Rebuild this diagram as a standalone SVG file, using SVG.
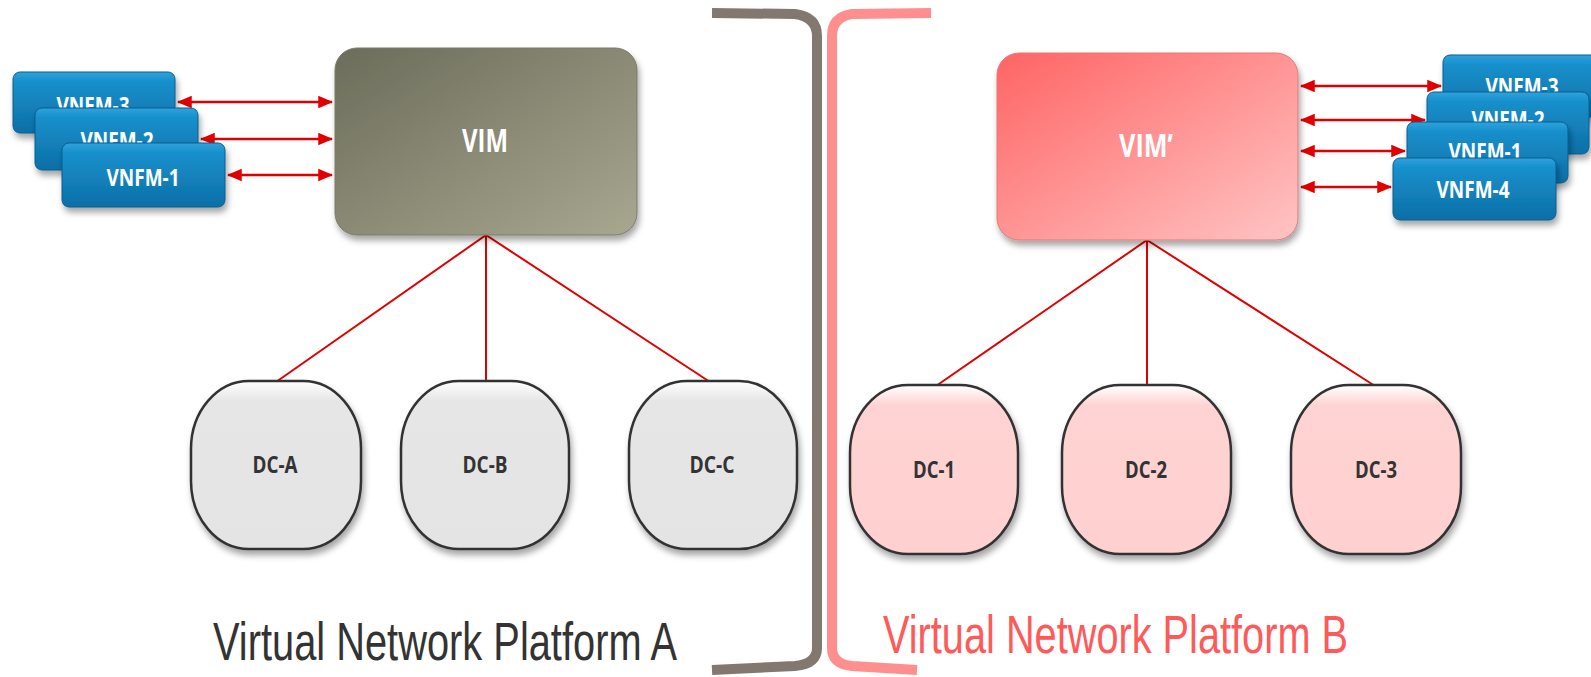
<svg xmlns="http://www.w3.org/2000/svg" width="1591" height="677" viewBox="0 0 1591 677">
<defs>
  <linearGradient id="gVim" x1="0" y1="0" x2="1" y2="1">
    <stop offset="0" stop-color="#6b6c5a"/>
    <stop offset="1" stop-color="#a8a790"/>
  </linearGradient>
  <linearGradient id="gVim2" x1="0" y1="0" x2="1" y2="1">
    <stop offset="0" stop-color="#ff6464"/>
    <stop offset="1" stop-color="#ffc4c4"/>
  </linearGradient>
  <linearGradient id="gBlue" x1="0" y1="0" x2="0" y2="1">
    <stop offset="0" stop-color="#2fa3dc"/>
    <stop offset="0.15" stop-color="#1890cc"/>
    <stop offset="1" stop-color="#0d6fa6"/>
  </linearGradient>
  <linearGradient id="gGray" x1="0" y1="0" x2="0" y2="1">
    <stop offset="0" stop-color="#ffffff"/>
    <stop offset="0.12" stop-color="#e6e6e6"/>
    <stop offset="1" stop-color="#e4e4e4"/>
  </linearGradient>
  <linearGradient id="gPink" x1="0" y1="0" x2="0" y2="1">
    <stop offset="0" stop-color="#ffffff"/>
    <stop offset="0.12" stop-color="#ffd3d3"/>
    <stop offset="1" stop-color="#ffd0d0"/>
  </linearGradient>
  <filter id="sh" x="-20%" y="-20%" width="140%" height="150%">
    <feDropShadow dx="2" dy="5" stdDeviation="3" flood-color="#000" flood-opacity="0.35"/>
  </filter>
  <marker id="ah" viewBox="0 0 12 10" refX="11" refY="5" markerWidth="6" markerHeight="5" orient="auto-start-reverse" markerUnits="strokeWidth">
    <path d="M0,0 L12,5 L0,10 z" fill="#e00000"/>
  </marker>
</defs>
<style>
  .vnfm rect { fill: url(#gBlue); stroke: #0b5f8e; stroke-width: 1; filter: url(#sh); }
  .vnfm text, .vim text { fill: #ffffff; font-family: "Open Sans", "Liberation Sans", sans-serif; font-weight: bold; text-anchor: middle; }
  .vnfm text { font-size: 23px; }
  .vim text { font-size: 32px; }
  .dc rect { stroke: #333333; stroke-width: 2.5; filter: url(#sh); }
  .dc text { fill: #333333; font-family: "Open Sans", "Liberation Sans", sans-serif; font-weight: bold; font-size: 23px; text-anchor: middle; }
  .arrow { stroke: #e00000; stroke-width: 2.5; fill: none; marker-start: url(#ah); marker-end: url(#ah); }
  .link { stroke: #e00000; stroke-width: 2; fill: none; }
  .title { font-family: "Liberation Sans", Arial, sans-serif; font-size: 53px; }
</style>

<!-- brackets -->
<g id="brackets" fill="none" stroke-width="10" stroke-linecap="butt">
  <path d="M712,13 L795,14 Q817,17 817,36 L817,648 Q817,664 795,666 L712,670" stroke="#83786f"/>
  <path d="M931,13 L852,14 Q832,17 832,36 L832,648 Q832,664 852,666 L917,670" stroke="#ff8f8f"/>
</g>

<!-- connectors -->
<g id="connectors">
  <line class="link" x1="486" y1="235" x2="276" y2="382"/>
  <line class="link" x1="486" y1="235" x2="486" y2="382"/>
  <line class="link" x1="486" y1="235" x2="710" y2="382"/>
  <line class="link" x1="1147" y1="240" x2="936" y2="386"/>
  <line class="link" x1="1147" y1="240" x2="1147" y2="386"/>
  <line class="link" x1="1147" y1="240" x2="1375" y2="386"/>
  <line class="arrow" x1="178" y1="102" x2="332" y2="102"/>
  <line class="arrow" x1="201" y1="139" x2="332" y2="139"/>
  <line class="arrow" x1="228" y1="175" x2="332" y2="175"/>
  <line class="arrow" x1="1301" y1="86" x2="1441" y2="86"/>
  <line class="arrow" x1="1301" y1="120" x2="1425" y2="120"/>
  <line class="arrow" x1="1301" y1="151" x2="1405" y2="151"/>
  <line class="arrow" x1="1301" y1="187" x2="1391" y2="187"/>
</g>

<!-- left VNFMs -->
<g id="vnfm-3-left" class="vnfm">
  <rect x="13" y="72" width="162" height="61" rx="7"/>
  <text x="93" y="114" textLength="73" lengthAdjust="spacingAndGlyphs">VNFM-3</text>
</g>
<g id="vnfm-2-left" class="vnfm">
  <rect x="35" y="108" width="163" height="62" rx="7"/>
  <text x="117" y="149" textLength="73" lengthAdjust="spacingAndGlyphs">VNFM-2</text>
</g>
<g id="vnfm-1-left" class="vnfm">
  <rect x="62" y="143" width="163" height="64" rx="7"/>
  <text x="143" y="186" textLength="73" lengthAdjust="spacingAndGlyphs">VNFM-1</text>
</g>

<!-- VIM -->
<g id="vim" class="vim">
  <rect x="335" y="48" width="302" height="187" rx="22" fill="url(#gVim)" stroke="#7a7a68" stroke-width="1" filter="url(#sh)"/>
  <text x="485" y="152" textLength="46" lengthAdjust="spacingAndGlyphs">VIM</text>
</g>

<!-- VIM' -->
<g id="vim-prime" class="vim">
  <rect x="997" y="53" width="301" height="187" rx="22" fill="url(#gVim2)" stroke="#e07a7a" stroke-width="1" filter="url(#sh)"/>
  <text x="1146" y="157" textLength="54" lengthAdjust="spacingAndGlyphs">VIM’</text>
</g>

<!-- right VNFMs -->
<g id="vnfm-3-right" class="vnfm">
  <rect x="1443" y="55" width="165" height="62" rx="7"/>
  <text x="1522" y="95" textLength="73" lengthAdjust="spacingAndGlyphs">VNFM-3</text>
</g>
<g id="vnfm-2-right" class="vnfm">
  <rect x="1427" y="92" width="162" height="62" rx="7"/>
  <text x="1508" y="128" textLength="73" lengthAdjust="spacingAndGlyphs">VNFM-2</text>
</g>
<g id="vnfm-1-right" class="vnfm">
  <rect x="1407" y="122" width="161" height="61" rx="7"/>
  <text x="1485" y="160" textLength="73" lengthAdjust="spacingAndGlyphs">VNFM-1</text>
</g>
<g id="vnfm-4-right" class="vnfm">
  <rect x="1393" y="158" width="163" height="62" rx="7"/>
  <text x="1473" y="198" textLength="73" lengthAdjust="spacingAndGlyphs">VNFM-4</text>
</g>

<!-- DCs platform A -->
<g id="dc-a" class="dc">
  <rect x="191" y="381" width="170" height="168" rx="58" ry="68" fill="url(#gGray)"/>
  <text x="275" y="473" textLength="45" lengthAdjust="spacingAndGlyphs">DC-A</text>
</g>
<g id="dc-b" class="dc">
  <rect x="401" y="381" width="168" height="168" rx="58" ry="68" fill="url(#gGray)"/>
  <text x="485" y="473" textLength="45" lengthAdjust="spacingAndGlyphs">DC-B</text>
</g>
<g id="dc-c" class="dc">
  <rect x="629" y="381" width="168" height="168" rx="58" ry="68" fill="url(#gGray)"/>
  <text x="712" y="473" textLength="45" lengthAdjust="spacingAndGlyphs">DC-C</text>
</g>

<!-- DCs platform B -->
<g id="dc-1" class="dc">
  <rect x="850" y="385" width="168" height="169" rx="58" ry="68" fill="url(#gPink)"/>
  <text x="934" y="478" textLength="42" lengthAdjust="spacingAndGlyphs">DC-1</text>
</g>
<g id="dc-2" class="dc">
  <rect x="1062" y="385" width="169" height="169" rx="58" ry="68" fill="url(#gPink)"/>
  <text x="1146" y="478" textLength="42" lengthAdjust="spacingAndGlyphs">DC-2</text>
</g>
<g id="dc-3" class="dc">
  <rect x="1291" y="385" width="170" height="169" rx="58" ry="68" fill="url(#gPink)"/>
  <text x="1376" y="478" textLength="42" lengthAdjust="spacingAndGlyphs">DC-3</text>
</g>

<!-- titles -->
<g id="titles">
  <text class="title" x="213" y="660" fill="#333333" textLength="464" lengthAdjust="spacingAndGlyphs">Virtual Network Platform A</text>
  <text class="title" x="883" y="653" fill="#ff5a5a" textLength="465" lengthAdjust="spacingAndGlyphs">Virtual Network Platform B</text>
</g>
</svg>
